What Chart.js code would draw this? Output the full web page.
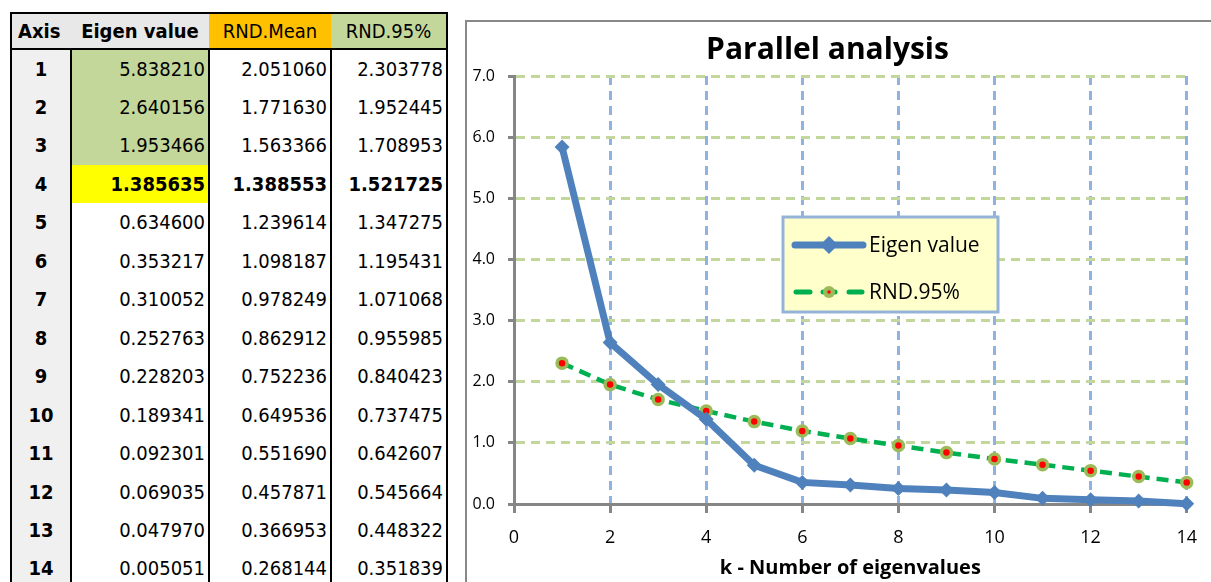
<!DOCTYPE html>
<html>
<head>
<meta charset="utf-8">
<script src="https://cdn.jsdelivr.net/npm/chart.js@4.4.1/dist/chart.umd.min.js"></script>
<style>
  html,body{margin:0;padding:0;width:1211px;height:582px;overflow:hidden;background:#fff;}
  #tbl{position:absolute;left:10px;top:12px;border-collapse:collapse;table-layout:fixed;
       font-family:"DejaVu Sans Condensed","DejaVu Sans",sans-serif;font-stretch:condensed;font-size:20px;color:#000;}
  #tbl td,#tbl th{height:38.5px;padding:0 3px;box-sizing:border-box;white-space:nowrap;overflow:hidden;}
  #tbl th{height:36px;font-weight:normal;border-bottom:2px solid #000;}
  #tbl td{border-left:2px solid #000;text-align:right;}
  #tbl td.ax{text-align:center;font-weight:bold;background:#f0f0f0;border-left:none;}
  #tbl{border:2px solid #000;}
  #box{position:absolute;left:465px;top:20px;width:900px;height:700px;border:2px solid #888;}
  #wrap{position:absolute;left:467px;top:22px;width:744px;height:560px;}
</style>
</head>
<body>
<table id="tbl"></table>
<div id="box"></div>
<div id="wrap"><canvas id="c"></canvas></div>
<script>
// values read from the sheet
const axes = [1,2,3,4,5,6,7,8,9,10,11,12,13,14];
const eigenValues = [5.838210,2.640156,1.953466,1.385635,0.634600,0.353217,0.310052,0.252763,0.228203,0.189341,0.092301,0.069035,0.047970,0.005051];
const rndMean = [2.051060,1.771630,1.563366,1.388553,1.239614,1.098187,0.978249,0.862912,0.752236,0.649536,0.551690,0.457871,0.366953,0.268144];
const rnd95 = [2.303778,1.952445,1.708953,1.521725,1.347275,1.195431,1.071068,0.955985,0.840423,0.737475,0.642607,0.545664,0.448322,0.351839];
const headers = ['Axis','Eigen value','RND.Mean','RND.95%'];
const retained = 3; // axes kept (eigen > RND.95%)

// table
(function(){
  const t = document.getElementById('tbl');
  const widths = [60,138,122,116];
  const bg = ['#e8e8e8','#e8e8e8','#ffc000','#c4d79b'];
  let h = '<tr>';
  headers.forEach((s,i)=>{
    const fw = i<2 ? 'bold' : 'normal';
    const al = i==0 ? 'left' : 'center';
    h += `<th style="width:${widths[i]}px;background:${bg[i]};font-weight:${fw};text-align:${al};padding-left:${i==0?6:3}px">${s}</th>`;
  });
  h += '</tr>';
  axes.forEach((k,i)=>{
    let eb = i<retained ? '#c4d79b' : (i==retained ? '#ffff00' : '#fff');
    const b = i==retained ? 'font-weight:bold;' : '';
    h += `<tr><td class="ax">${k}</td>`+
      `<td style="background:${eb};${b}">${eigenValues[i].toFixed(6)}</td>`+
      `<td style="${b}">${rndMean[i].toFixed(6)}</td>`+
      `<td style="${b}">${rnd95[i].toFixed(6)}</td></tr>`;
  });
  t.innerHTML = h;
})();

// legend drawn inside the plot, like the Excel one
const boxLegend = {
  id:'boxLegend',
  afterDraw(chart){
    const c = chart.ctx;
    const x = 316, y = 195, w = 215, hgt = 95;
    c.save();
    c.fillStyle = '#ffffcc';
    c.fillRect(x,y,w,hgt);
    c.strokeStyle = '#95b3d7';
    c.lineWidth = 3;
    c.strokeRect(x,y,w,hgt);
    // eigen
    c.strokeStyle = '#4f81bd'; c.lineWidth = 7; c.lineCap = 'round';
    c.beginPath(); c.moveTo(x+12,y+28); c.lineTo(x+80,y+28); c.stroke();
    c.fillStyle = '#4f81bd';
    c.beginPath(); c.moveTo(x+46,y+19); c.lineTo(x+55,y+28); c.lineTo(x+46,y+37); c.lineTo(x+37,y+28); c.closePath(); c.fill();
    // rnd95
    c.strokeStyle = '#00b050'; c.lineWidth = 5;
    c.beginPath(); c.moveTo(x+13,y+75); c.lineTo(x+27,y+75); c.moveTo(x+66,y+75); c.lineTo(x+79,y+75); c.stroke();
    c.beginPath(); c.moveTo(x+40,y+75); c.lineTo(x+52,y+75); c.stroke();
    c.fillStyle = '#9bbb59';
    c.beginPath(); c.arc(x+46,y+75,6,0,Math.PI*2); c.fill();
    c.fillStyle = 'red';
    c.beginPath(); c.arc(x+46,y+75,1.8,0,Math.PI*2); c.fill();
    c.fillStyle = '#000';
    c.font = '21px "Open Sans"';
    c.textBaseline = 'middle';
    c.fillText(chart.data.datasets[0].label, x+86, y+29);
    c.fillText(chart.data.datasets[1].label, x+86, y+76);
    c.restore();
  }
};

Chart.defaults.font.family = '"Open Sans", Lato, sans-serif';
Chart.defaults.color = '#000';

new Chart(document.getElementById('c'), {
  type:'line',
  data:{
    datasets:[
      { label:'Eigen value', data: axes.map((k,i)=>({x:k,y:eigenValues[i]})),
        borderColor:'#4f81bd', borderWidth:7, pointStyle:'rectRot', pointRadius:7.5,
        pointBackgroundColor:'#4f81bd', pointBorderWidth:0, clip:false },
      { label:'RND.95%', data: axes.map((k,i)=>({x:k,y:rnd95[i]})),
        borderColor:'#00b050', borderWidth:4.5, borderDash:[12,7], pointStyle:'circle', pointRadius:5,
        pointBackgroundColor:'red', pointBorderColor:'#9bbb59', pointBorderWidth:3.5, clip:false }
    ]
  },
  options:{
    responsive:true, maintainAspectRatio:false, animation:false,
    layout:{ padding:{top:0,right:23,bottom:0,left:0} },
    plugins:{
      legend:{display:false}, tooltip:{enabled:false},
      title:{ display:true, text:'Parallel analysis', font:{size:30,weight:'bold',lineHeight:1.2}, padding:{top:10,bottom:8}, color:'#000' }
    },
    scales:{
      x:{ type:'linear', min:0, max:14,
        ticks:{ stepSize:2, font:{size:18}, padding:14, maxRotation:0 },
        grid:{ color:c=>c.tick && c.tick.value===0 ? 'rgba(0,0,0,0)' : '#8db3e2', lineWidth:3,
               tickColor:'#868686', tickLength:9, tickWidth:3 },
        border:{ color:'#868686', width:3, dash:[9,6] },
        title:{ display:true, text:'k - Number of eigenvalues', font:{size:20,weight:'bold'}, padding:{top:0,bottom:2} },
        afterFit(s){ s.height = 78; }
      },
      y:{ min:0, max:7,
        ticks:{ stepSize:1, font:{size:16}, padding:13, callback:v=>v.toFixed(1) },
        grid:{ color:c=>c.tick && c.tick.value===0 ? 'rgba(0,0,0,0)' : '#c3d69b', lineWidth:3,
               tickColor:'#868686', tickLength:6, tickWidth:3 },
        border:{ color:'#868686', width:3, dash:[9,6] },
        afterFit(s){ s.width = 47; }
      }
    }
  },
  plugins:[boxLegend]
});
</script>
</body>
</html>
